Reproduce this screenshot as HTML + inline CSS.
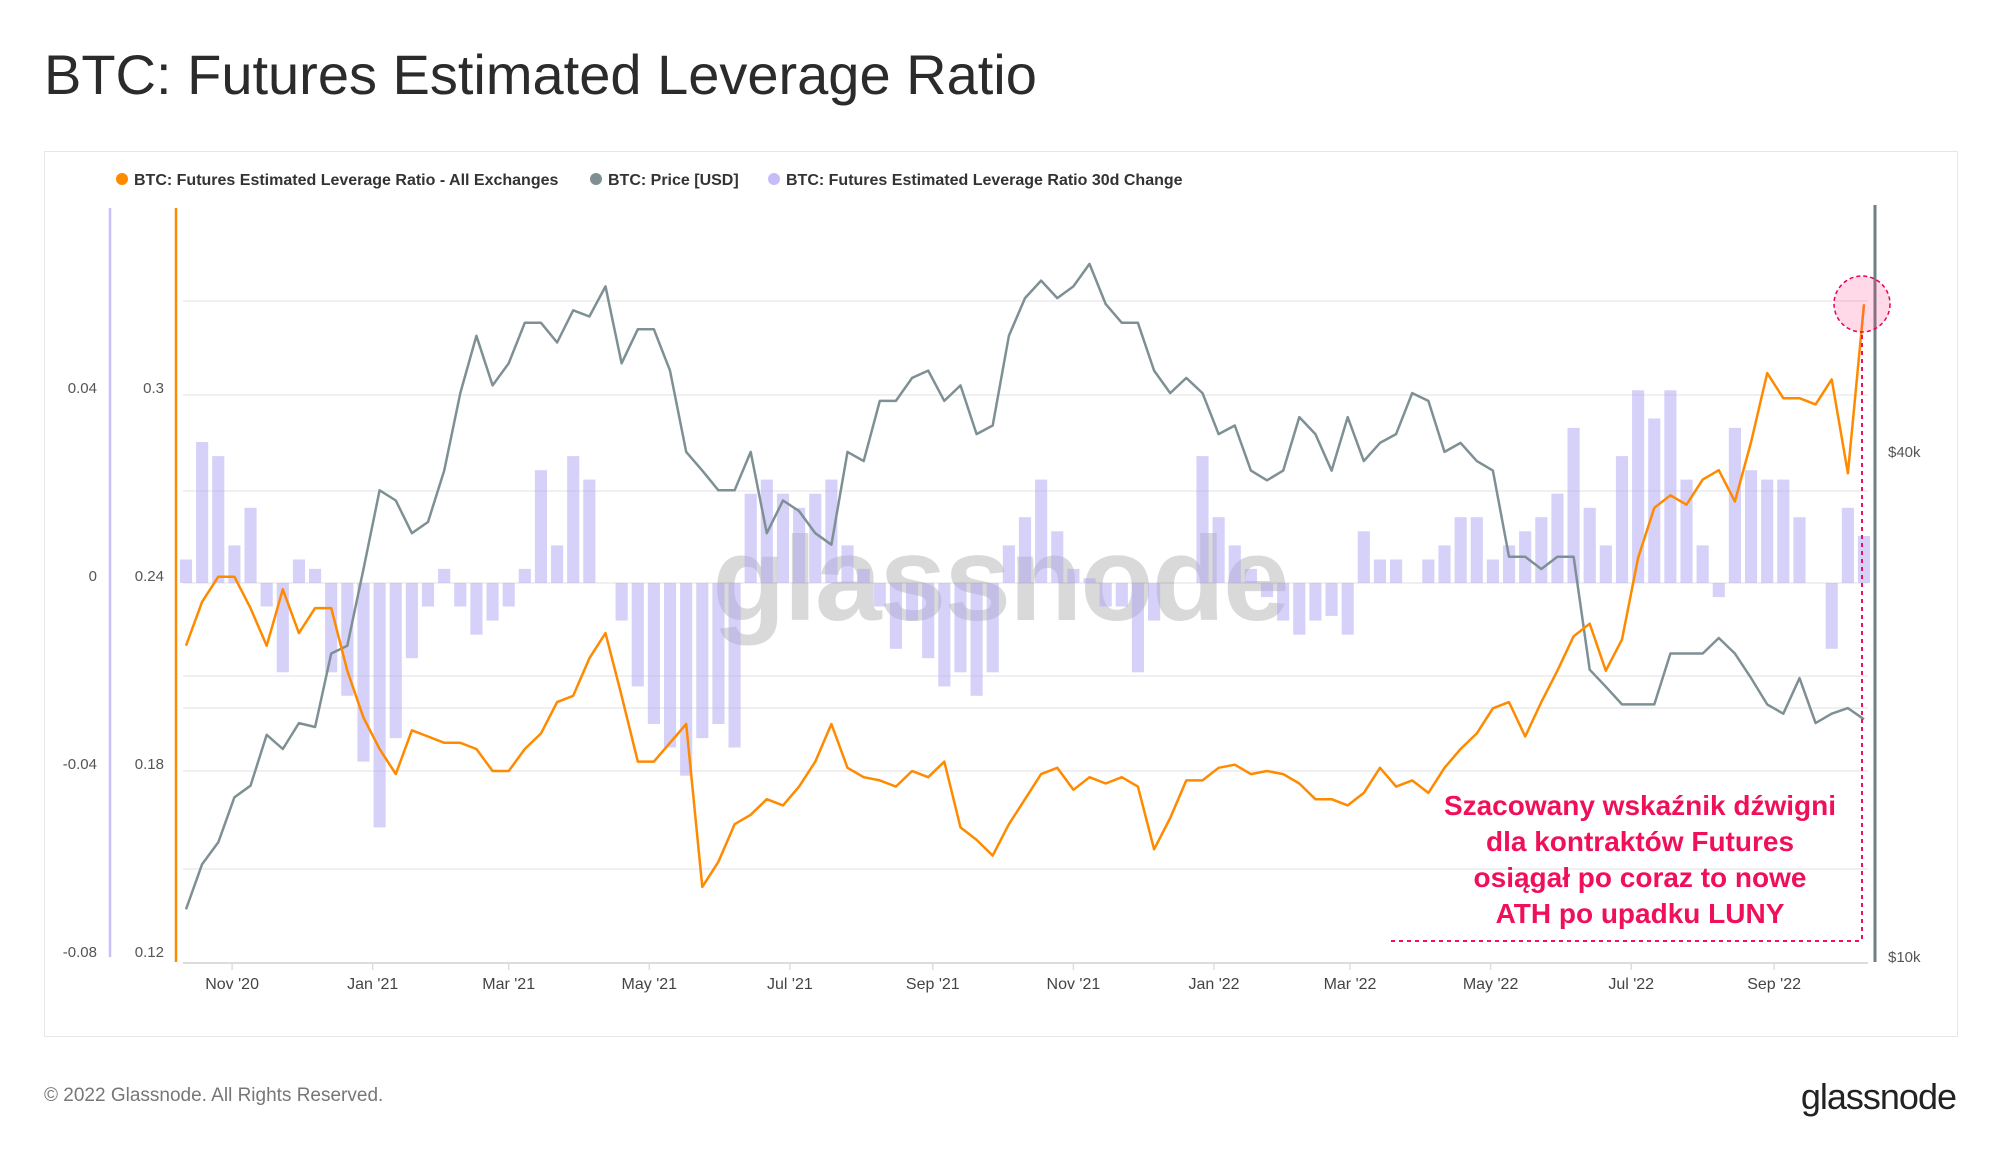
<!DOCTYPE html>
<html><head><meta charset="utf-8">
<style>
html,body{margin:0;padding:0;background:#fff;}
body{width:2000px;height:1152px;position:relative;overflow:hidden;font-family:"Liberation Sans",sans-serif;}
.t{position:absolute;white-space:nowrap;}
</style></head>
<body>
<div class="t" style="left:44px;top:42px;font-size:56px;color:#2b2b2b;">BTC: Futures Estimated Leverage Ratio</div>
<div style="position:absolute;left:44px;top:151px;width:1912px;height:884px;border:1px solid #e6e6e6;"></div>
<div class="t" style="left:44px;top:1085px;font-size:19px;color:#777;">© 2022 Glassnode. All Rights Reserved.</div>
<div class="t" style="right:44px;top:1076px;font-size:36px;color:#222;letter-spacing:-1px;">glassnode</div>
<svg id="chart" width="2000" height="1152" style="position:absolute;left:0;top:0;"></svg>
<script>
const priceK=[11.4,12.9,13.7,15.5,16.0,18.4,17.7,19.0,18.8,23.0,23.5,29.0,36.0,35.0,32.0,33.0,38.0,47.0,55.0,48.0,51.0,57.0,57.0,54.0,59.0,58.0,63.0,51.0,56.0,56.0,50.0,40.0,38.0,36.0,36.0,40.0,32.0,35.0,34.0,32.0,31.0,40.0,39.0,46.0,46.0,49.0,50.0,46.0,48.0,42.0,43.0,55.0,61.0,64.0,61.0,63.0,67.0,60.0,57.0,57.0,50.0,47.0,49.0,47.0,42.0,43.0,38.0,37.0,38.0,44.0,42.0,38.0,44.0,39.0,41.0,42.0,47.0,46.0,40.0,41.0,39.0,38.0,30.0,30.0,29.0,30.0,30.0,22.0,21.0,20.0,20.0,20.0,23.0,23.0,23.0,24.0,23.0,21.5,20.0,19.5,21.5,19.0,19.5,19.8,19.2];
const leverage=[0.220,0.234,0.242,0.242,0.232,0.220,0.238,0.224,0.232,0.232,0.212,0.197,0.187,0.179,0.193,0.191,0.189,0.189,0.187,0.180,0.180,0.187,0.192,0.202,0.204,0.216,0.224,0.204,0.183,0.183,0.189,0.195,0.143,0.151,0.163,0.166,0.171,0.169,0.175,0.183,0.195,0.181,0.178,0.177,0.175,0.180,0.178,0.183,0.162,0.158,0.153,0.163,0.171,0.179,0.181,0.174,0.178,0.176,0.178,0.175,0.155,0.165,0.177,0.177,0.181,0.182,0.179,0.180,0.179,0.176,0.171,0.171,0.169,0.173,0.181,0.175,0.177,0.173,0.181,0.187,0.192,0.200,0.202,0.191,0.202,0.212,0.223,0.227,0.212,0.222,0.248,0.264,0.268,0.265,0.273,0.276,0.266,0.285,0.307,0.299,0.299,0.297,0.305,0.275,0.329];
const change30d=[0.005,0.030,0.027,0.008,0.016,-0.005,-0.019,0.005,0.003,-0.019,-0.024,-0.038,-0.052,-0.033,-0.016,-0.005,0.003,-0.005,-0.011,-0.008,-0.005,0.003,0.024,0.008,0.027,0.022,0.000,-0.008,-0.022,-0.030,-0.035,-0.041,-0.033,-0.030,-0.035,0.019,0.022,0.019,0.016,0.019,0.022,0.008,0.003,-0.005,-0.014,-0.008,-0.016,-0.022,-0.019,-0.024,-0.019,0.008,0.014,0.022,0.011,0.003,0.001,-0.005,-0.005,-0.019,-0.008,0.000,0.000,0.027,0.014,0.008,0.003,-0.003,-0.008,-0.011,-0.008,-0.007,-0.011,0.011,0.005,0.005,0.000,0.005,0.008,0.014,0.014,0.005,0.008,0.011,0.014,0.019,0.033,0.016,0.008,0.027,0.041,0.035,0.041,0.022,0.008,-0.003,0.033,0.024,0.022,0.022,0.014,0.000,-0.014,0.016,0.010];
const monthLabels=["Nov '20","Jan '21","Mar '21","May '21","Jul '21","Sep '21","Nov '21","Jan '22","Mar '22","May '22","Jul '22","Sep '22"];
const monthDayOffsets=[20,81,140,201,262,324,385,446,505,566,627,689];
const levTicks=[0.3,0.24,0.18,0.12];
const chgTicks=[0.04,0,-0.04,-0.08];
const priceTicks=[40,10];

const NS="http://www.w3.org/2000/svg";
const svg=document.getElementById('chart');
const X0=186,X1=1864,N=priceK.length;
const xIdx=i=>X0+i*(X1-X0)/(N-1);
const xDay=d=>X0+d*(X1-X0)/((N-1)*7);
const yLev=v=>583-(v-0.24)*3133;
const yChg=v=>583-v*4700;
const yPrice=p=>957-(Math.log10(p*1000)-4)*839;
function mk(tag,attrs,parent){const e=document.createElementNS(NS,tag);for(const k in attrs)e.setAttribute(k,attrs[k]);(parent||svg).appendChild(e);return e;}

[301,395,491,583,676,708,771,869].forEach(y=>{
  const g=mk('line',{x1:183,x2:1868,y1:y,y2:y,stroke:'#ebebeb','stroke-width':1.5});
  
  
});
const bl=mk('line',{x1:183,x2:1868,y1:963,y2:963,stroke:'#dcdcdc','stroke-width':2});



const legend=[['#ff8a00','BTC: Futures Estimated Leverage Ratio - All Exchanges',122],['#7f9095','BTC: Price [USD]',596],['#c5bdf7','BTC: Futures Estimated Leverage Ratio 30d Change',774]];
legend.forEach(l=>{
  const c=mk('circle',{cx:l[2],cy:179,r:6,fill:l[0]});
  
  
  const t=mk('text',{x:l[2]+12,y:185,'font-size':16,'font-weight':'bold',fill:'#333','font-family':'Liberation Sans, sans-serif'});
  t.textContent=l[1];
  
  
});

const a1=mk('line',{x1:110,x2:110,y1:208,y2:957,stroke:'#c8c0f8','stroke-width':2.5});


const a2=mk('line',{x1:176,x2:176,y1:208,y2:962,stroke:'#ff8a00','stroke-width':2.5});


const a3=mk('line',{x1:1875,x2:1875,y1:205,y2:962,stroke:'#6e7f85','stroke-width':3});



const tf={'font-size':15,fill:'#555','font-family':'Liberation Sans, sans-serif','text-anchor':'end'};
levTicks.forEach(v=>{const t=mk('text',Object.assign({x:164,y:yLev(v)-2},tf));t.textContent=String(v);
  
  });
chgTicks.forEach(v=>{const t=mk('text',Object.assign({x:97,y:yChg(v)-2},tf));t.textContent=String(v);
  
  });
priceTicks.forEach(v=>{const t=mk('text',{x:1888,y:yPrice(v)+5,'font-size':15,fill:'#555','font-family':'Liberation Sans, sans-serif'});t.textContent='$'+v+'k';
  
  });
monthLabels.forEach((m,i)=>{const x=xDay(monthDayOffsets[i]);
  const tk=mk('line',{x1:x,x2:x,y1:963,y2:970,stroke:'#ddd','stroke-width':1.5});
  
  
  const t=mk('text',{x:x,y:989,'font-size':16,fill:'#444','text-anchor':'middle','font-family':'Liberation Sans, sans-serif'});t.textContent=m;
  
  });

const wm=mk('text',{x:1000,y:620,'font-size':120,fill:'#000','fill-opacity':0.15,'text-anchor':'middle','font-family':'Liberation Sans, sans-serif','font-weight':'bold','letter-spacing':-2});
wm.textContent='glassnode';



const bw=(X1-X0)/(N-1);
change30d.forEach((v,i)=>{
  const y0=yChg(0),y=yChg(v);
  const r=mk('rect',{x:xIdx(i)-bw/2+2,y:Math.min(y0,y),width:bw-4,height:Math.abs(y-y0),fill:'#aea3f3','fill-opacity':0.5});
  
  
});

function line(arr,fy,color,name){
  const d=arr.map((v,i)=>(i?'L':'M')+xIdx(i).toFixed(1)+','+fy(v).toFixed(1)).join(' ');
  const p=mk('path',{d:d,fill:'none',stroke:color,'stroke-width':2.5,'stroke-linejoin':'round'});
  
  
}
line(priceK,yPrice,'#7f9095','price-line');
line(leverage,yLev,'#ff8a00','leverage-line');

const circ=mk('circle',{cx:1862,cy:304,r:28,fill:'#ff2d78','fill-opacity':0.18,stroke:'#e8005a','stroke-dasharray':'4 3','stroke-width':1.5});


const vl=mk('line',{x1:1862,x2:1862,y1:335,y2:941,stroke:'#f0105a','stroke-dasharray':'4 4','stroke-width':2});


const hl=mk('line',{x1:1391,x2:1862,y1:941,y2:941,stroke:'#f0105a','stroke-dasharray':'4 4','stroke-width':2});


['Szacowany wskaźnik dźwigni','dla kontraktów Futures','osiągał po coraz to nowe','ATH po upadku LUNY'].forEach((s,i)=>{
  const t=mk('text',{x:1640,y:815+i*36,'font-size':28,'font-weight':'bold',fill:'#f0105a','text-anchor':'middle','font-family':'Liberation Sans, sans-serif'});
  t.textContent=s;
  
  
});
</script>
</body></html>
